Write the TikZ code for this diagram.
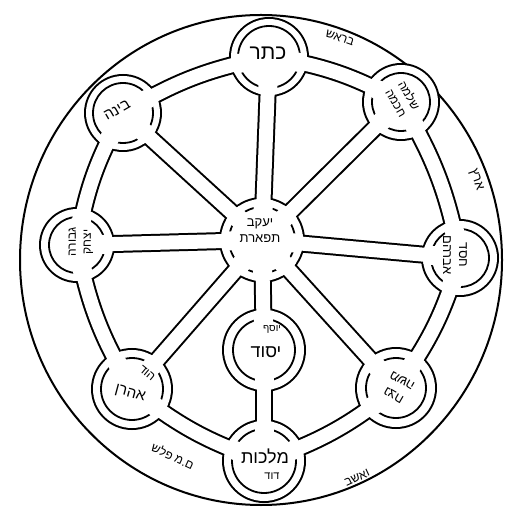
\documentclass[tikz,border=0pt]{standalone}
\usepackage{fontspec}
\newfontfamily\heb[Script=Hebrew]{Liberation Sans}
\TeXXeTstate=1
\newcommand\hb[1]{\beginR #1\endR}
\newcommand\fs[1]{\fontsize{#1}{#1}\selectfont}
\newcommand\allpipes[1]{%
  \foreach \a/\b/\c in {K/Ch/10,Ch/Ches/10,Ches/N/10,N/M/10,M/H/10,H/G/10,G/B/10,B/K/10,
      T/K/0,T/Ch/0,T/Ches/0,T/N/0,T/Y/0,T/H/0,T/G/0,T/B/0,Y/M/0}
  {\draw[#1] (\a) to[bend left=\c] (\b);}}
\newcommand\nodelist{K/39/31,Ch/38/29,Ches/38/29,N/40/30,M/41/32,H/40/31,G/37/28,B/38/30,T/42/33,Y/41/31}
\begin{document}
\begin{tikzpicture}[x=1pt,y=1pt,
  lbl/.style={font=\heb, inner sep=0pt, align=center, text=black}]
\useasboundingbox (0,0) rectangle (508,506);
\fill[white] (0,0) rectangle (508,506);
\coordinate (O) at (261,246);
\coordinate (K) at (269,449);
\coordinate (Ch) at (401,404);
\coordinate (Ches) at (460,248);
\coordinate (N) at (396,118);
\coordinate (M) at (264,45);
\coordinate (H) at (132,117);
\coordinate (G) at (77,261);
\coordinate (B) at (123,393);
\coordinate (T) at (262,266);
\coordinate (Y) at (264,156);
% outer circle
\draw[line width=2pt] (O) ellipse [x radius=241, y radius=245];
% pass 1: black walls
\allpipes{line width=18pt,black}
\foreach \n/\rr/\ri in \nodelist {\fill[black] (\n) circle ({\rr+1});}
% pass 2: white interiors
\allpipes{line width=14pt,white}
\foreach \n/\rr/\ri in \nodelist {\fill[white] (\n) circle ({\rr-1});}
% pass 3: inner circles
\foreach \n/\rr/\ri in \nodelist {\draw[line width=1.8pt] (\n) circle (\ri);}
% pass 4: gaps in inner circles where pipes enter
\foreach \n/\rr/\ri in \nodelist {
  \begin{scope}[even odd rule]
    \clip (\n) circle ({\rr-1}) (\n) circle ({\ri-4});
    \allpipes{line width=19pt,white}
  \end{scope}}
% labels
\node[lbl, font={\heb\fs{21}}] (tK) at (268,453) {\hb{כתר}};
\node[lbl, font={\heb\fs{12}}, rotate=-60] (tCh) at (403,407) {\hb{שלמה}\\[3pt]\hb{חכמה}};
\node[lbl, font={\heb\fs{15}}, rotate=30] (tB) at (117,396) {\hb{בינה}};
\node[lbl, font={\heb\fs{12}}, rotate=90] (tG) at (81,264) {\hb{גבורה}\\[3pt]\hb{יצחק}};
\node[lbl, font={\heb\fs{13}}, rotate=-90] (tChes) at (455,251) {\hb{חסד}\\[3pt]\hb{אברהם}};
\node[lbl, font={\heb\fs{13}}] (tT) at (260,275) {\hb{יעקב}\\[3pt]\hb{תפארת}};
\node[lbl, font={\heb\fs{10}}] (tY1) at (272,177) {\hb{יוסף}};
\node[lbl, font={\heb\fs{18}}] (tY2) at (266,154) {\hb{יסוד}};
\node[lbl, font={\heb\fs{12}}, rotate=-40] (tH1) at (147,133) {\hb{הוד}};
\node[lbl, font={\heb\fs{15}}, rotate=-15] (tH2) at (130,112) {\hb{אהרן}};
\node[lbl, font={\heb\fs{13}}, rotate=150] (tN) at (398,118) {\hb{נצח}\\[4pt]\hb{משה}};
\node[lbl, font={\heb\fs{18}}] (tM1) at (265,50) {\hb{מלכות}};
\node[lbl, font={\heb\fs{11}}] (tM2) at (272,30) {\hb{דוד}};
% ring texts
\node[lbl, font={\heb\fs{12}}, rotate=-20] (r1) at (340,468) {\hb{בראש}};
\node[lbl, font={\heb\fs{13}}, rotate=-70] (r2) at (476,326) {\hb{ארץ}};
\node[lbl, font={\heb\fs{12}}, rotate=25] (r3) at (357,28) {\hb{ואשב}};
\node[lbl, font={\heb\fs{12}}, rotate=-25] (r4) at (173,50) {\hb{ם.מ פלש}};
\end{tikzpicture}
\end{document}
